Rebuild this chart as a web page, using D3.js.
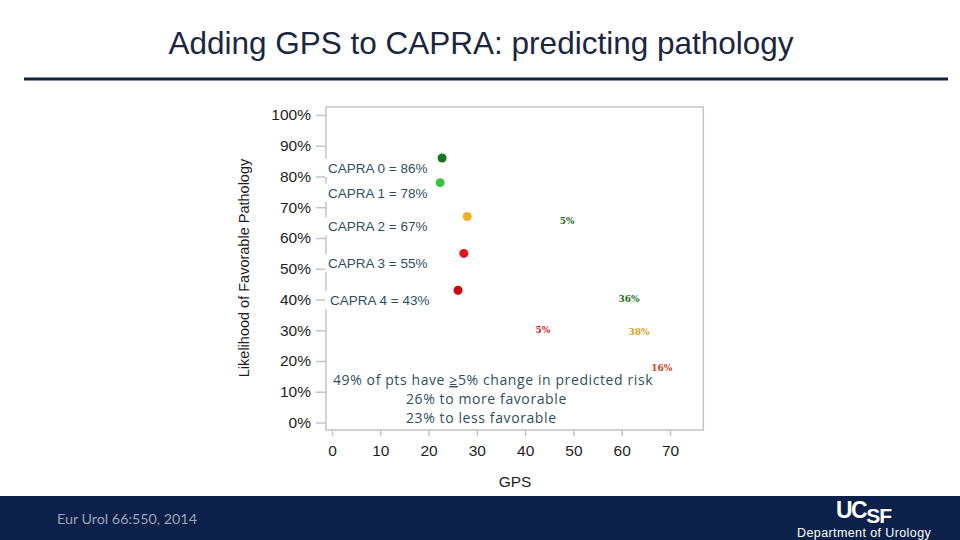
<!DOCTYPE html>
<html lang="en">
<head>
<meta charset="UTF-8">
<title>Adding GPS to CAPRA</title>
<script src="https://d3js.org/d3.v7.min.js"></script>
<style>
    body {margin: 0; background: #fff}
    text {font-family: 'Liberation Sans', Arial, sans-serif}
    .note {font-family: 'Open Sans', sans-serif; fill: #2f4f5c}
</style>
</head>
<body>
<script>
    const width  = 960;
    const height = 540;

    // CAPRA groups: median GPS vs likelihood of favorable pathology
    const capraLabels = ["CAPRA 0 = 86%", "CAPRA 1 = 78%", "CAPRA 2 = 67%", "CAPRA 3 = 55%", "CAPRA 4 = 43%"];
    const capraGps    = [22.8, 22.4, 28.0, 27.3, 26.1];
    const capraPct    = [86, 78, 67, 55, 43];
    const capraColors = ["#15761a", "#3cc23c", "#eeb122", "#e3151b", "#cc0a0a"];

    // small change labels scattered in the plot
    const changeLabels = ["5%", "36%", "5%", "38%", "16%"];
    const changeGps    = [48.7, 61.5, 43.7, 63.6, 68.3];
    const changePct    = [65.5, 40.2, 30.1, 29.4, 17.7];
    const changeColors = ["#1d6e1d", "#1d6e1d", "#d3202a", "#d9a21c", "#d04020"];

    const xTicks = [0, 10, 20, 30, 40, 50, 60, 70];
    const yTicks = [0, 10, 20, 30, 40, 50, 60, 70, 80, 90, 100];

    const noteLines = ["49% of pts have ", "26% to more favorable", "23% to less favorable"];

    const x = d3.scaleLinear().domain([0, 70]).range([332, 670]);
    const y = d3.scaleLinear().domain([0, 100]).range([422.5, 115]);

    const svg = d3.select("body").append("svg")
        .attr("width", width).attr("height", height);

    // title and rule
    svg.append("text")
        .attr("x", 481).attr("y", 54)
        .attr("text-anchor", "middle")
        .style("font-size", "31.5px")
        .style("fill", "#1b2640")
        .text("Adding GPS to CAPRA: predicting pathology");
    svg.append("line")
        .attr("x1", 24).attr("x2", 948)
        .attr("y1", 79).attr("y2", 79)
        .style("stroke", "#14213d").style("stroke-width", 3);

    // plot frame
    svg.append("rect")
        .attr("x", x(-1.25)).attr("y", 107)
        .attr("width", x(76.9) - x(-1.25)).attr("height", 430 - 107)
        .style("fill", "none").style("stroke", "#c4c4c4").style("stroke-width", 1.5);

    // axes
    const yAxis = d3.axisLeft(y).tickValues(yTicks).tickFormat(d => d + "%")
        .tickSize(10).tickPadding(5).tickSizeOuter(0);
    const gy = svg.append("g").attr("transform", `translate(${x(-1.25)},0)`).call(yAxis);
    gy.select(".domain").remove();
    gy.selectAll("line").style("stroke", "#c4c4c4").style("stroke-width", 1.5);
    gy.selectAll("text").style("font-size", "15.5px").style("fill", "#1e1e1e")
        .style("font-family", "'Liberation Sans', Arial, sans-serif");

    const xAxis = d3.axisBottom(x).tickValues(xTicks)
        .tickSize(6).tickPadding(9).tickSizeOuter(0);
    const gx = svg.append("g").attr("transform", "translate(0,430)").call(xAxis);
    gx.select(".domain").remove();
    gx.selectAll("line").style("stroke", "#c4c4c4").style("stroke-width", 1.5);
    gx.selectAll("text").style("font-size", "15.5px").style("fill", "#1e1e1e")
        .style("font-family", "'Liberation Sans', Arial, sans-serif");

    svg.append("text")
        .attr("x", 515).attr("y", 487)
        .attr("text-anchor", "middle")
        .style("font-size", "15.5px").style("fill", "#1e1e1e")
        .text("GPS");
    svg.append("text")
        .attr("transform", "translate(249,268) rotate(-90)")
        .attr("text-anchor", "middle")
        .style("font-size", "14.5px").style("fill", "#1e1e1e")
        .text("Likelihood of Favorable Pathology");

    // CAPRA labels with white boxes
    const labels = svg.append("g");
    labels.selectAll("rect")
        .data(capraPct).enter().append("rect")
        .attr("x", 325).attr("y", d => y(d) + 1)
        .attr("width", 112).attr("height", 18)
        .style("fill", "#fff");
    labels.selectAll("text")
        .data(capraLabels).enter().append("text")
        .attr("x", (d, i) => i == 4 ? 330 : 328)
        .attr("y", (d, i) => y(capraPct[i]) + 15)
        .style("font-size", "13.5px")
        .style("fill", "#2f4f5c")
        .text(d => d);

    // CAPRA points
    svg.append("g").selectAll("circle")
        .data(capraGps).enter().append("circle")
        .attr("cx", d => x(d))
        .attr("cy", (d, i) => y(capraPct[i]))
        .attr("r", 4.5)
        .style("fill", (d, i) => capraColors[i]);

    // change labels
    svg.append("g").selectAll("text")
        .data(changeLabels).enter().append("text")
        .attr("x", (d, i) => x(changeGps[i]))
        .attr("y", (d, i) => y(changePct[i]) + 3)
        .attr("text-anchor", "middle")
        .style("font-family", "'DejaVu Serif', serif")
        .style("font-size", "9px")
        .style("font-weight", "bold")
        .style("fill", (d, i) => changeColors[i])
        .text(d => d);

    // note text
    const note = svg.append("g").attr("class", "note");
    const t0 = note.append("text").attr("class", "note")
        .attr("x", 333).attr("y", 385)
        .style("font-size", "14px").style("letter-spacing", "0.6px");
    t0.append("tspan").text(noteLines[0]);
    t0.append("tspan").style("text-decoration", "underline").text("\u2265");
    t0.append("tspan").text("5% change in predicted risk");
    note.selectAll("text.sub")
        .data(noteLines.slice(1)).enter().append("text")
        .attr("class", "note sub")
        .attr("x", 406)
        .attr("y", (d, i) => 404 + i * 19)
        .style("font-size", "14px").style("letter-spacing", "0.6px")
        .text(d => d);

    // footer band
    svg.append("rect")
        .attr("x", 0).attr("y", 496)
        .attr("width", width).attr("height", 44)
        .style("fill", "#0b2149");
    svg.append("text")
        .attr("x", 57).attr("y", 524)
        .style("font-family", "Lato, sans-serif")
        .style("font-size", "14.3px")
        .style("fill", "#9aa3bb")
        .text("Eur Urol 66:550, 2014");

    const logo = svg.append("text")
        .attr("x", 836).attr("y", 518)
        .style("font-family", "'Liberation Sans', Arial, sans-serif")
        .style("font-weight", "bold")
        .style("fill", "#fff");
    logo.append("tspan").style("font-size", "23px").style("letter-spacing", "-1.5px").text("UC");
    logo.append("tspan").attr("dy", 5).style("font-size", "21px").style("letter-spacing", "-1px").text("SF");
    svg.append("text")
        .attr("x", 797).attr("y", 537)
        .style("font-family", "'Liberation Sans Narrow', 'Liberation Sans', sans-serif")
        .style("font-size", "12.5px")
        .style("letter-spacing", "0.4px")
        .style("fill", "#fff")
        .text("Department of Urology");
</script>
</body>
</html>
